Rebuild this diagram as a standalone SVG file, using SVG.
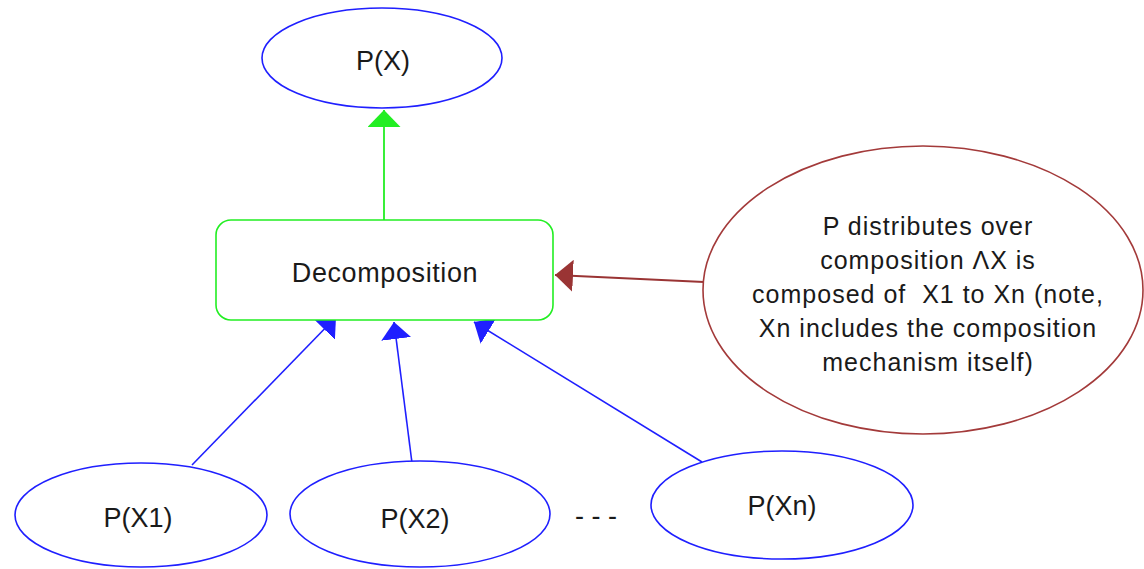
<svg xmlns="http://www.w3.org/2000/svg" width="1144" height="569" viewBox="0 0 1144 569">
  <defs>
    <style>
      .lbl { font-family: "Liberation Sans", Arial, sans-serif; font-size: 27px; fill: #1a1a1a; text-anchor: middle; }
      .note { font-family: "Liberation Sans", Arial, sans-serif; font-size: 25px; letter-spacing: 1px; fill: #1a1a1a; text-anchor: middle; white-space: pre; }
      .blue-node { fill: #ffffff; stroke: #1f1fff; stroke-width: 1.6; }
      .green-node { fill: #ffffff; stroke: #22ee22; stroke-width: 1.6; }
      .red-node { fill: #ffffff; stroke: #a33a3a; stroke-width: 1.6; }
      .edge-blue { stroke: #1f1fff; stroke-width: 1.6; fill: none; marker-end: url(#head-blue); }
      .edge-green { stroke: #22ee22; stroke-width: 1.8; fill: none; marker-end: url(#head-green); }
      .edge-red { stroke: #9a3434; stroke-width: 1.8; fill: none; marker-end: url(#head-red); }
    </style>
    <marker id="head-blue" markerUnits="userSpaceOnUse" markerWidth="18" markerHeight="30" refX="17" refY="15" orient="auto" viewBox="0 0 18 30">
      <path d="M0,0 L17,15 L0,30 Z" fill="#1f1fff"/>
    </marker>
    <marker id="head-green" markerUnits="userSpaceOnUse" markerWidth="18" markerHeight="33" refX="17" refY="16.5" orient="auto" viewBox="0 0 18 33">
      <path d="M0,0 L17,16.5 L0,33 Z" fill="#22ee22"/>
    </marker>
    <marker id="head-red" markerUnits="userSpaceOnUse" markerWidth="19" markerHeight="32" refX="18" refY="16" orient="auto" viewBox="0 0 19 32">
      <path d="M0,0 L18,16 L0,32 Z" fill="#9a3434"/>
    </marker>
  </defs>

  <rect x="0" y="0" width="1144" height="569" fill="#ffffff"/>

  <!-- connectors (drawn first so node fills cover arrow tips at the box edge) -->
  <g id="connectors">
    <line class="edge-green" x1="384" y1="220" x2="384" y2="110"/>
    <line class="edge-red" x1="704" y1="282" x2="555" y2="275"/>
    <line class="edge-blue" x1="192" y1="465" x2="336" y2="317"/>
    <line class="edge-blue" x1="412" y1="463" x2="394" y2="322"/>
    <line class="edge-blue" x1="702" y1="462" x2="474" y2="322"/>
  </g>

  <g id="node-px">
    <ellipse class="blue-node" cx="382" cy="58" rx="120" ry="50"/>
    <text class="lbl" x="383" y="70">P(X)</text>
  </g>

  <g id="node-decomposition">
    <rect class="green-node" x="216" y="220" width="337" height="100" rx="15" ry="15"/>
    <text class="lbl" x="385" y="282" style="letter-spacing:0.6px">Decomposition</text>
  </g>

  <g id="node-note">
    <ellipse class="red-node" cx="923" cy="290" rx="220" ry="144"/>
    <text class="note" x="928" y="235">P distributes over</text>
    <text class="note" x="928" y="269">composition ΛX is</text>
    <text class="note" x="928" y="303">composed of  X1 to Xn (note,</text>
    <text class="note" x="928" y="337">Xn includes the composition</text>
    <text class="note" x="928" y="371">mechanism itself)</text>
  </g>

  <g id="node-px1">
    <ellipse class="blue-node" cx="141" cy="515" rx="126" ry="52"/>
    <text class="lbl" x="138" y="527">P(X1)</text>
  </g>

  <g id="node-px2">
    <ellipse class="blue-node" cx="420" cy="514" rx="130" ry="53"/>
    <text class="lbl" x="415" y="528">P(X2)</text>
  </g>

  <g id="ellipsis">
    <text class="lbl" x="596" y="525">- - -</text>
  </g>

  <g id="node-pxn">
    <ellipse class="blue-node" cx="782" cy="505" rx="131" ry="54"/>
    <text class="lbl" x="782" y="515">P(Xn)</text>
  </g>
</svg>
